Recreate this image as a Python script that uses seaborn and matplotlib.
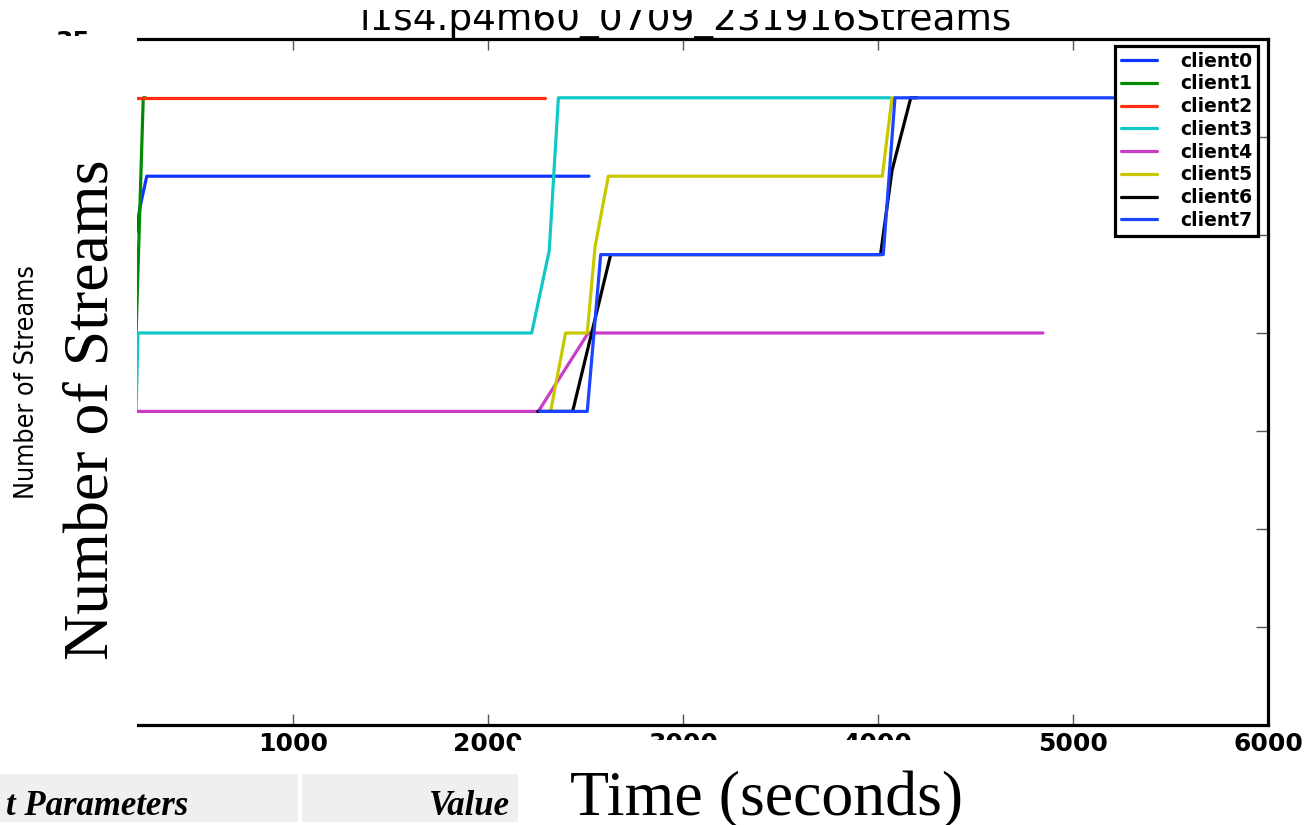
import matplotlib
matplotlib.use("Agg")
import matplotlib.pyplot as plt
from matplotlib.patches import Rectangle
import seaborn as sns
import pandas as pd

# ---- data ----
clients = ["client0", "client1", "client2", "client3", "client4", "client5", "client6", "client7"]
colors = ["#1034ff", "#008a00", "#ff2e10", "#10c8c8", "#c83cc8", "#c8c800", "#000000", "#1a44ff"]

client0_t = [195, 215, 250, 2518]
client0_s = [25.1, 26.4, 28, 28]
client1_t = [183, 232, 245]
client1_s = [16, 32, 32]
client2_t = [195, 2292]
client2_s = [32, 32]
client3_t = [195, 205, 2224, 2314, 2361, 4062]
client3_s = [16, 20, 20, 24.2, 32, 32]
client4_t = [195, 2258, 2514, 4846]
client4_s = [16, 16, 20, 20]
client5_t = [2321, 2398, 2509, 2549, 2617, 4022, 4072, 4090]
client5_s = [16, 20, 20, 24.4, 28, 28, 32, 32]
client6_t = [2255, 2434, 2629, 4013, 4072, 4168, 4200]
client6_s = [16, 16, 24, 24, 28.3, 32, 32]
client7_t = [2265, 2509, 2578, 4027, 4087, 5205]
client7_s = [16, 16, 24, 24, 32, 32]

times = [client0_t, client1_t, client2_t, client3_t, client4_t, client5_t, client6_t, client7_t]
streams = [client0_s, client1_s, client2_s, client3_s, client4_s, client5_s, client6_s, client7_s]

x_ticks = [0, 1000, 2000, 3000, 4000, 5000, 6000]
y_ticks = [0, 5, 10, 15, 20, 25, 30, 35]
# only the top label peeks out from behind the document overlay
y_tick_labels = ["", "", "", "", "", "", "", "35"]

title = "i1s4.p4m60_0709_231916Streams"

# ---- figure ----
sns.set_style("white")
plt.rcParams["font.family"] = ["DejaVu Sans"]
plt.rcParams["text.color"] = "black"
plt.rcParams["xtick.color"] = "black"
plt.rcParams["ytick.color"] = "black"

W, H = 1311, 825
fig = plt.figure(figsize=(W / 100, H / 100), dpi=100)
ax = fig.add_axes([98 / W, 1 - 725 / H, 1170 / W, 686 / H])

for name, col, t, s in zip(clients, colors, times, streams):
    df = pd.DataFrame({"Time": t, "Streams": s})
    sns.lineplot(data=df, x="Time", y="Streams", ax=ax, color=col, lw=2.3,
                 sort=False, estimator=None, label=name)

ax.set_xlim(0, 6000)
ax.set_ylim(0, 35)
ax.set_xticks(x_ticks)
ax.set_yticks(y_ticks)
ax.set_yticklabels(y_tick_labels)
ax.set_xlabel("")
ax.set_ylabel("")

for side in ["top", "right", "bottom", "left"]:
    ax.spines[side].set_visible(True)
    ax.spines[side].set_color("black")
    ax.spines[side].set_linewidth(2.3)

ax.tick_params(axis="x", which="both", direction="in", top=True, bottom=True,
               length=8, width=1, color="#555555", labelcolor="black", labelsize=18, pad=5)
ax.tick_params(axis="y", which="both", direction="in", left=True, right=True,
               length=9, width=1, color="#555555", labelcolor="black", labelsize=18, pad=6)
for lab in ax.get_xticklabels() + ax.get_yticklabels():
    lab.set_fontweight("bold")

leg = ax.legend(loc="upper right", bbox_to_anchor=(1258 / W, 1 - 46 / H),
                bbox_transform=fig.transFigure, borderaxespad=0,
                frameon=True, fancybox=False, framealpha=1, edgecolor="black",
                prop={"size": 13.5, "weight": "bold"}, handlelength=1.9,
                handletextpad=1.25, labelspacing=0.2, borderpad=0.3)
leg.get_frame().set_linewidth(2.3)
for txt in leg.get_texts():
    txt.set_color("black")

# original small y label and title
fig.text(27 / W, 1 - 382 / H, "Number of Streams", rotation=90, ha="center", va="center",
         fontsize=19.3, fontstretch="condensed", color="black")
fig.text(686 / W, 1 - 30 / H, title, ha="center", va="baseline", fontsize=27, color="black")

# overlay boxes (document layer)
def box(x0, y0, x1, y1, fc, z=5):
    fig.add_artist(Rectangle((x0 / W, 1 - y1 / H), (x1 - x0) / W, (y1 - y0) / H,
                             transform=fig.transFigure, facecolor=fc, edgecolor="none", zorder=z))

box(300, 0, 1100, 10, "white")
box(45, 36, 137, 790, "white")
box(515, 740, 1000, 825, "white")
box(0, 774, 298, 822, "#efefef")
box(302, 774, 518, 822, "#efefef")

serif = ["Liberation Serif", "DejaVu Serif"]
fig.text(108 / W, 1 - 410 / H, "Number of Streams", rotation=90, rotation_mode="anchor",
         ha="center", va="baseline", fontsize=46, family=serif, color="black", zorder=7)
fig.text(767 / W, 1 - 815 / H, "Time (seconds)", ha="center", va="baseline",
         fontsize=46, family=serif, color="black", zorder=7)
fig.text(188 / W, 1 - 815 / H, "t Parameters", ha="right", va="baseline", fontsize=25,
         family=serif, fontweight="bold", fontstyle="italic", color="black", zorder=7)
fig.text(510 / W, 1 - 815 / H, "Value", ha="right", va="baseline", fontsize=25,
         family=serif, fontweight="bold", fontstyle="italic", color="black", zorder=7)

fig.savefig("out.png", dpi=100)
